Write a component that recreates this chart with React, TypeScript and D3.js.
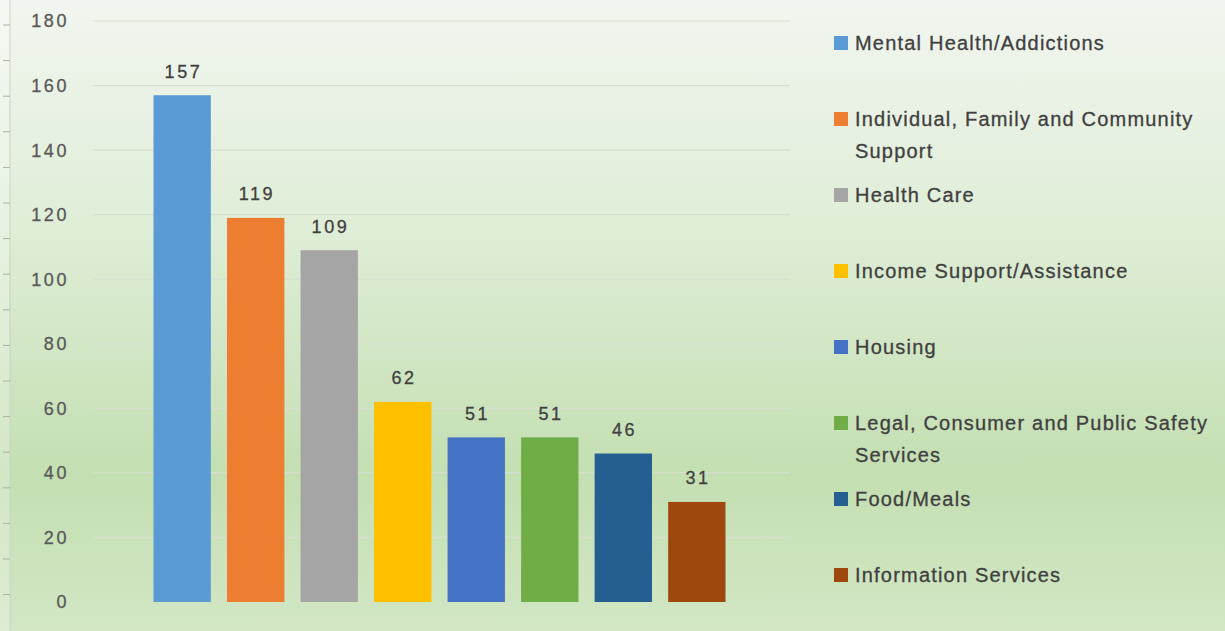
import * as d3 from 'd3';

const categories = [
  'Mental Health/Addictions',
  'Individual, Family and Community Support',
  'Health Care',
  'Income Support/Assistance',
  'Housing',
  'Legal, Consumer and Public Safety Services',
  'Food/Meals',
  'Information Services',
];
// legend labels as they wrap in the picture
const legendLines = [
  ['Mental Health/Addictions'],
  ['Individual, Family and Community', 'Support'],
  ['Health Care'],
  ['Income Support/Assistance'],
  ['Housing'],
  ['Legal, Consumer and Public Safety', 'Services'],
  ['Food/Meals'],
  ['Information Services'],
];
const counts = [157, 119, 109, 62, 51, 51, 46, 31];
const colors = ['#5B9BD5', '#ED7D31', '#A5A5A5', '#FFC000', '#4472C4', '#70AD47', '#255E91', '#9E480E'];
const yTicks = [0, 20, 40, 60, 80, 100, 120, 140, 160, 180];

const W = 1225;
const H = 631;

export default function App() {
  const x = d3.scaleBand<string>()
    .domain(categories)
    .range([91, 788])
    .paddingInner(0.22)
    .paddingOuter(0.85);
  const y = d3.scaleLinear().domain([0, 180]).range([602, 21]);

  // faint ruler ticks on the left edge
  const ruler = d3.range(25, 600, 35.6);

  return (
    <svg width={W} height={H} style={{ position: 'absolute', left: 0, top: 0 }}
      fontFamily="'Liberation Sans', Arial, sans-serif">
      <defs>
        <linearGradient id="bg" x1="0" y1="0" x2="0" y2="1">
          <stop offset="0%" stopColor="#f1f5ef" />
          <stop offset="35%" stopColor="#e0eed8" />
          <stop offset="75%" stopColor="#c4dfb2" />
          <stop offset="100%" stopColor="#d2e6c4" />
        </linearGradient>
      </defs>
      <rect width={W} height={H} fill="url(#bg)" />
      <rect width={10} height={H} fill="#ffffff" opacity={0.25} />
      <line x1={10} x2={10} y1={0} y2={H} stroke="#c9d3c4" strokeWidth={1} />
      {ruler.map((r, i) => (
        <line key={i} x1={3} x2={10} y1={r} y2={r} stroke="#aab3a6" strokeWidth={1} />
      ))}

      {yTicks.map(t => (
        <g key={t}>
          {t > 0 && (
            <line x1={93} x2={790} y1={y(t)} y2={y(t)} stroke="#d6e0cf" strokeWidth={1.2} />
          )}
          <text x={69} y={y(t)} dy="0.36em" textAnchor="end" fontSize={18}
            letterSpacing={2.6} fill="#595959" stroke="#595959" strokeWidth={0.3}>{t}</text>
        </g>
      ))}

      {categories.map((c, i) => (
        <g key={c}>
          <rect x={x(c)} y={y(counts[i])} width={x.bandwidth()} height={y(0) - y(counts[i])}
            fill={colors[i]} />
          <text x={(x(c) ?? 0) + x.bandwidth() / 2 + 1.3} y={y(counts[i]) - 24} dy="0.36em"
            textAnchor="middle" fontSize={18} letterSpacing={2.6} fill="#404040"
            stroke="#404040" strokeWidth={0.3}>{counts[i]}</text>
        </g>
      ))}

      {legendLines.map((lines, i) => {
        const cy = 43 + i * 76;
        return (
          <g key={i}>
            <rect x={834} y={cy - 7} width={14} height={14} fill={colors[i]} />
            {lines.map((l, j) => (
              <text key={j} x={855} y={cy + j * 32} dy="0.36em" fontSize={20}
                letterSpacing={1.2} fill="#404040" stroke="#404040" strokeWidth={0.3}>{l}</text>
            ))}
          </g>
        );
      })}
    </svg>
  );
}
